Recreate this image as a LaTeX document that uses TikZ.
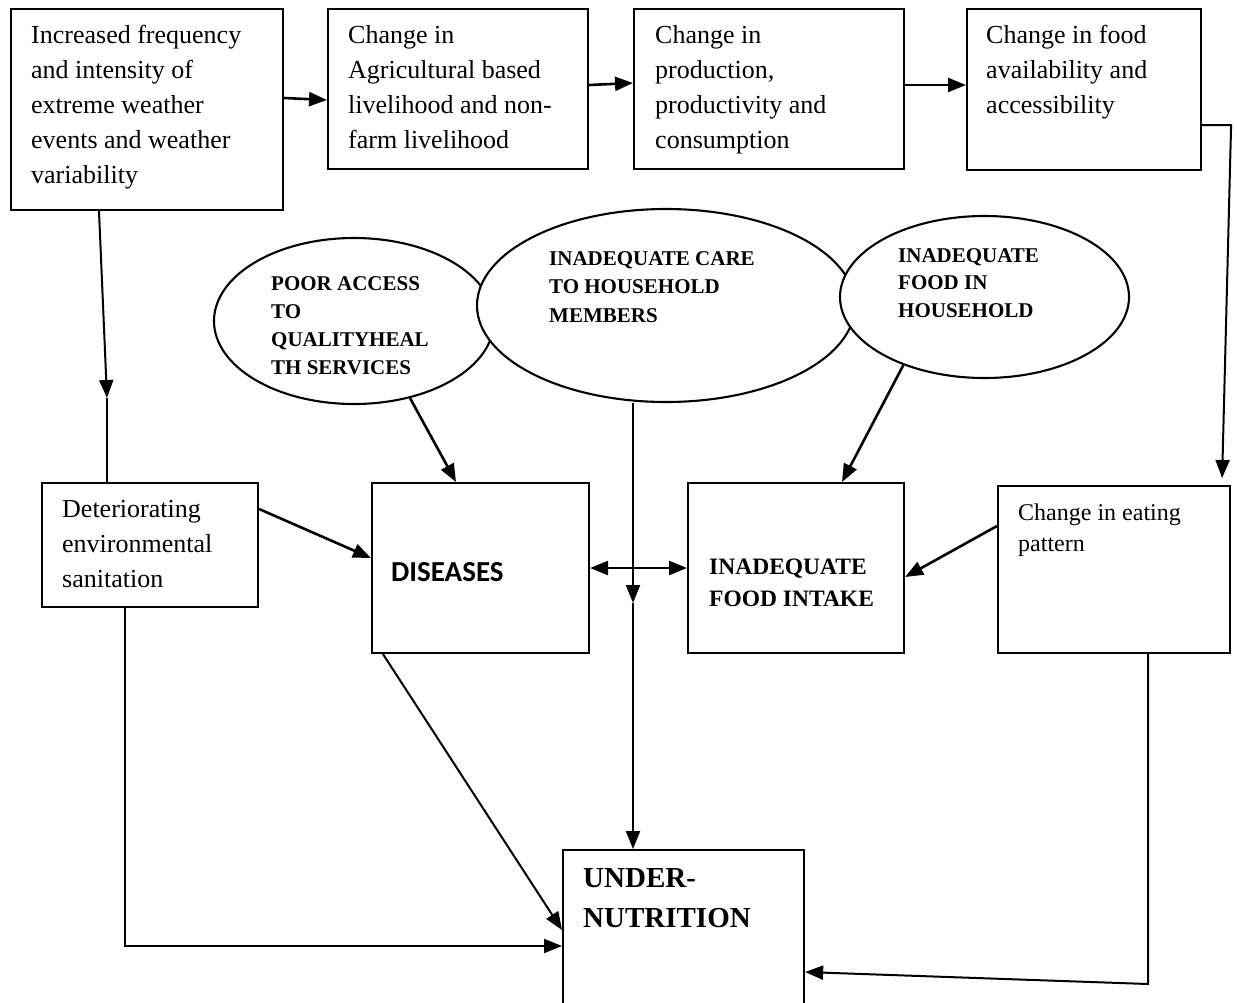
\documentclass[tikz,border=0pt]{standalone}
\usepackage{fontspec}
\setmainfont{Liberation Serif}
\newfontfamily\carl{Carlito}
\usetikzlibrary{arrows.meta,shapes.geometric,calc}
\tikzset{
  box/.style={draw, rectangle, line width=2.1pt, inner sep=0pt, anchor=north west},
  ell/.style={draw, ellipse, fill=white, line width=2.1pt, inner sep=0pt},
  txt/.style={anchor=north west, inner sep=0pt, align=left},
  tip/.tip={Triangle[length=18pt,width=14pt]},
  arr/.style={-tip, line width=2.6pt},
  dbl/.style={tip-tip, line width=2.6pt},
  thinarr/.style={-tip, line width=2pt}
}
\begin{document}
\begin{tikzpicture}[x=1pt,y=-1pt]
\useasboundingbox[fill=white] (0,0) rectangle (1237,1002);
% boxes
\node[box, minimum width=272pt, minimum height=201pt] (b1) at (10,8) {};
\node[box, minimum width=260pt, minimum height=160pt] (b2) at (327,8) {};
\node[box, minimum width=270pt, minimum height=160pt] (b3) at (633,8) {};
\node[box, minimum width=234pt, minimum height=161pt] (b4) at (966,8) {};
\node[box, minimum width=216pt, minimum height=124pt] (san) at (41,482) {};
\node[box, minimum width=217pt, minimum height=170pt] (dis) at (371,482) {};
\node[box, minimum width=216pt, minimum height=170pt] (fi) at (687,482) {};
\node[box, minimum width=232pt, minimum height=167pt] (eat) at (997,485) {};
\node[box, minimum width=241pt, minimum height=175pt] (un) at (562,849) {};
% ellipses
\node[ell, minimum width=280pt, minimum height=166pt] (e1) at (354,321) {};
\node[ell, minimum width=378pt, minimum height=193pt] (e2) at (666,305.5) {};
\node[ell, minimum width=289pt, minimum height=162pt] (e3) at (984.5,297) {};
% texts
\node[txt, font=\fontsize{26}{35}\selectfont] (t1) at (31,18.5) {\strut Increased frequency\\and intensity of\\extreme weather\\events and weather\\variability};
\node[txt, font=\fontsize{26}{35}\selectfont] (t2) at (348,18.5) {\strut Change in\\Agricultural based\\livelihood and non-\\farm livelihood};
\node[txt, font=\fontsize{26}{35}\selectfont] (t3) at (655,18.5) {\strut Change in\\production,\\productivity and\\consumption};
\node[txt, font=\fontsize{26}{35}\selectfont] (t4) at (986,18.5) {\strut Change in food\\availability and\\accessibility};
\node[txt, font=\fontsize{26}{35}\selectfont] (tsan) at (62,492.5) {\strut Deteriorating\\environmental\\sanitation};
\node[anchor=base west, inner sep=0pt, font=\carl\bfseries\fontsize{29}{34}\selectfont] (tdis) at (391,581) {DISEASES};
\node[txt, font=\bfseries\fontsize{23.5}{32}\selectfont] (tfi) at (709,551.6) {\strut INADEQUATE\\FOOD INTAKE};
\node[txt, font=\fontsize{24}{31}\selectfont] (teat) at (1018,498.3) {\strut Change in eating\\pattern};
\node[txt, font=\bfseries\fontsize{29}{40}\selectfont] (tun) at (583,859) {\strut UNDER-\\NUTRITION};
\node[txt, font=\bfseries\fontsize{21}{28}\selectfont] (te1) at (271,270.4) {\strut POOR ACCESS\\TO\\QUALITYHEAL\\TH SERVICES};
\node[txt, font=\bfseries\fontsize{21}{28.5}\selectfont] (te2) at (549,245) {\strut INADEQUATE CARE\\TO HOUSEHOLD\\MEMBERS};
\node[txt, font=\bfseries\fontsize{21}{27.5}\selectfont] (te3) at (898,242.75) {\strut INADEQUATE\\FOOD IN\\HOUSEHOLD};
% connectors
\draw[arr] (b1.east |- 0,98) -- (b2.west |- 0,100);
\draw[arr] (b2.east |- 0,85) -- (b3.west |- 0,83);
\draw[arr] (b3.east |- 0,85) -- (b4.west |- 0,85);
\coordinate (c4) at ($(eat.north east)+(-9,-7)$);
\draw[thinarr] (b4.east |- 0,125) -- (eat.east |- 0,125) -- (c4);
\coordinate (c1) at (107,398);
\draw[thinarr] (b1.south -| 99,0) -- (c1);
\draw[line width=2pt] (c1) -- (san.north -| c1);
\draw[arr] (e1.-54) -- (dis.north -| 456,0);
\draw[arr] (e3.-140) -- (fi.north -| 842,0);
\coordinate (c2) at (633,603);
\draw[thinarr] (e2.south -| c2) -- (c2);
\draw[thinarr] (c2) -- (un.north -| c2);
\draw[dbl] (dis.east |- 0,568) -- (fi.west |- 0,568);
\draw[arr] (san.east |- 0,509) -- (dis.west |- 0,558);
\draw[arr] (eat.west |- 0,526) -- (fi.east |- 0,577);
\draw[thinarr] (dis.south -| 383,0) -- (un.west |- 0,930);
\draw[thinarr] (san.south -| 125,0) |- (un.west |- 0,946);
\coordinate (c3) at (1148,984);
\draw[thinarr] (eat.south -| c3) -- (c3) -- (un.east |- 0,972);
\end{tikzpicture}
\end{document}
